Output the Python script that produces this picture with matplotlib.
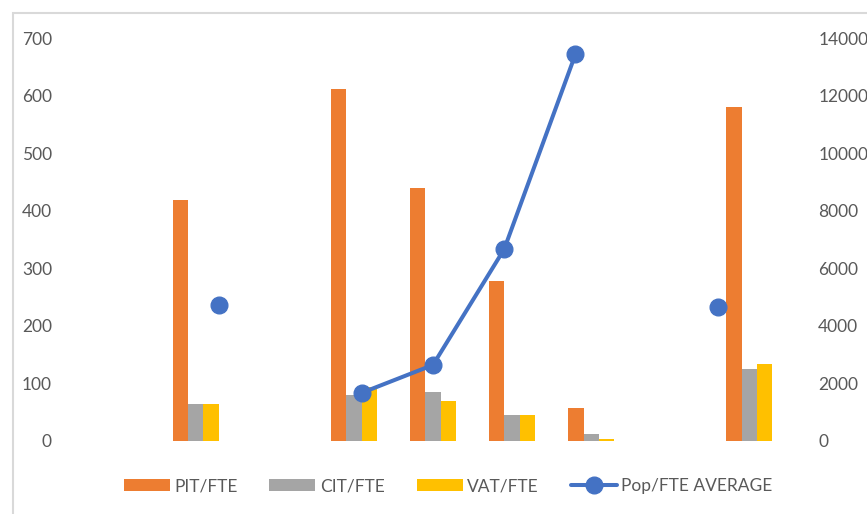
import numpy as np
import matplotlib.pyplot as plt
from matplotlib.patches import Rectangle

nan = np.nan

# bar series, one slot per category (blank categories left empty)
pit_fte = [nan, 419, nan, 612, 439, 278, 56, nan, 580]
cit_fte = [nan, 64, nan, 80, 84, 44, 11, nan, 124]
vat_fte = [nan, 64, nan, 93, 68, 44, 3, nan, 133]

# line series sits on its own 11-point category axis
pop_fte_avg = [nan, nan, 4700, nan, 1660, 2630, 6660, 13440, nan, 4640, nan]

orange = '#ED7D31'
grey = '#A5A5A5'
yellow = '#FFC000'
blue = '#4472C4'
txt = '#595959'

plt.rcParams['font.family'] = ['Lato', 'DejaVu Sans']
fs = 12.5

fig = plt.figure(figsize=(8.67, 5.14), dpi=100)
W, H = 867, 514
pos = [77 / W, 1 - 440.5 / H, (789 - 77) / W, (440.5 - 38.3) / H]

ax = fig.add_axes(pos)
x = np.arange(len(pit_fte))
bw = 0.194
b1 = ax.bar(x - bw, pit_fte, bw, color=orange, label='PIT/FTE')
b2 = ax.bar(x, cit_fte, bw, color=grey, label='CIT/FTE')
b3 = ax.bar(x + bw, vat_fte, bw, color=yellow, label='VAT/FTE')
ax.set_xlim(-0.5, len(pit_fte) - 0.5)
ax.set_ylim(0, 700)
ax.set_yticks(range(0, 701, 100))
ax.set_xticks([])
ax.tick_params(axis='y', length=0, pad=18, labelsize=fs, labelcolor=txt)
for s in ax.spines.values():
    s.set_visible(False)

ax2 = fig.add_axes(pos)
ax2.patch.set_visible(False)
xl = np.arange(len(pop_fte_avg))
ln, = ax2.plot(xl, pop_fte_avg, color=blue, lw=2.9, marker='o', ms=12,
               label='Pop/FTE AVERAGE', solid_capstyle='round')
ax2.set_xlim(0, len(pop_fte_avg) - 1)
ax2.set_ylim(0, 14000)
ax2.set_yticks(range(0, 14001, 2000))
ax2.set_xticks([])
ax2.yaxis.tick_right()
ax2.tick_params(axis='y', length=0, pad=21, labelsize=fs, labelcolor=txt)
for s in ax2.spines.values():
    s.set_visible(False)

fig.legend(handles=[b1, b2, b3, ln], loc='center', ncol=4,
           bbox_to_anchor=(448 / W, 1 - 486 / H), frameon=False,
           fontsize=fs, labelcolor=txt, handlelength=2.65,
           handletextpad=0.25, columnspacing=1.85, handleheight=0.7)

# chart border
fig.patches.append(Rectangle((13 / W, -0.1), 1.2, 1 - 13 / H + 0.1,
                             transform=fig.transFigure, fill=False,
                             edgecolor='#D9D9D9', lw=1.5))

fig.savefig('out.png', dpi=100)
